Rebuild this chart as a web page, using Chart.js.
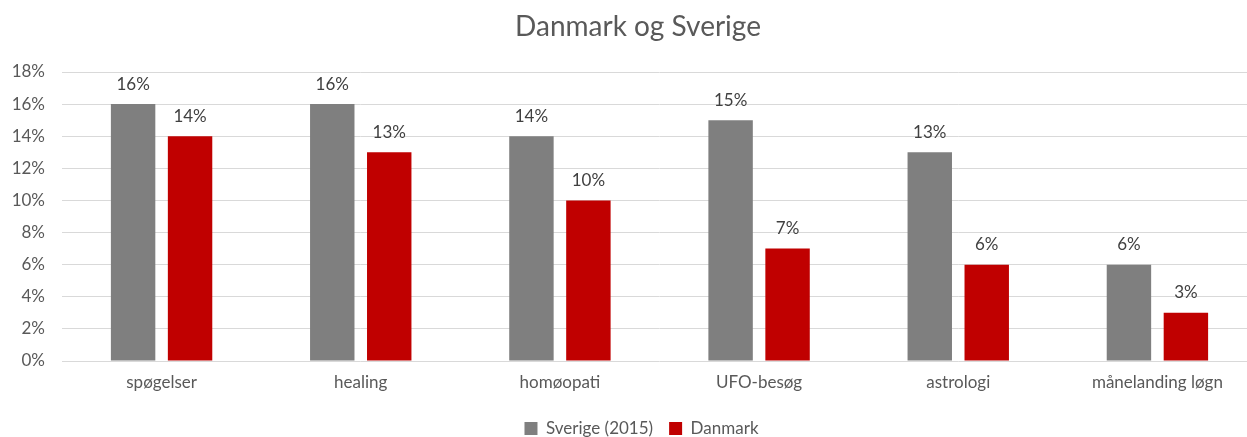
<!DOCTYPE html>
<html><head><meta charset="utf-8">
<script src="https://cdn.jsdelivr.net/npm/chart.js@4.4.0/dist/chart.umd.min.js"></script>
<style>html,body{margin:0;padding:0;background:#fff;overflow:hidden;width:1247px;height:437px}#wrap{width:1285px;height:437px}</style>
</head><body><div id="wrap"><canvas id="c"></canvas></div>
<script>
const categories = ["spøgelser","healing","homøopati","UFO-besøg","astrologi","månelanding løgn"];
const sverige = [16,16,14,15,13,6];
const danmark = [14,13,10,7,6,3];
const seriesNames = ["Sverige (2015)","Danmark"];
const yTicks = [0,2,4,6,8,10,12,14,16,18];
const titleText = "Danmark og Sverige";

const FONT = "Lato, 'Liberation Sans', sans-serif";
const valueLabels = {
  id:'valueLabels',
  afterDatasetsDraw(chart){
    const ctx = chart.ctx;
    ctx.save();
    ctx.font = "17px " + FONT;
    ctx.fillStyle = "#404040";
    ctx.textAlign = "center";
    ctx.textBaseline = "middle";
    chart.data.datasets.forEach((ds,i)=>{
      chart.getDatasetMeta(i).data.forEach((bar,j)=>{
        ctx.fillText(ds.data[j]+"%", bar.x, bar.y-20);
      });
    });
    ctx.restore();
  }
};
const titlePlugin = {
  id:'titlePlugin',
  afterDraw(chart){
    const ctx = chart.ctx;
    ctx.save();
    ctx.font = "28px " + FONT;
    ctx.fillStyle = "#595959";
    ctx.textAlign = "center";
    ctx.textBaseline = "middle";
    ctx.fillText(titleText, 638, 27);
    ctx.restore();
  }
};
const legendShift = {
  id:'legendShift',
  afterLayout(chart){
    if (chart.legend){ chart.legend.left += 13; chart.legend.right += 13; }
  }
};

new Chart(document.getElementById('c'),{
  type:'bar',
  data:{labels:categories,datasets:[
    {label:seriesNames[0],data:sverige,backgroundColor:'#7f7f7f',categoryPercentage:0.572,barPercentage:0.78},
    {label:seriesNames[1],data:danmark,backgroundColor:'#c00000',categoryPercentage:0.572,barPercentage:0.78}
  ]},
  options:{
    responsive:true,maintainAspectRatio:false,animation:false,
    layout:{padding:{left:0,right:28,top:72,bottom:-10}},
    plugins:{
      title:{display:false},
      legend:{position:'bottom',labels:{color:"#595959",font:{family:FONT,size:17},boxWidth:13,boxHeight:13,padding:16}},
      tooltip:{enabled:false}
    },
    scales:{
      x:{grid:{display:false},border:{display:false},
        afterFit(s){s.height=43;},
        ticks:{color:"#595959",font:{family:FONT,size:17},padding:3}},
      y:{min:0,max:18,grid:{color:"#d9d9d9",drawTicks:false},border:{display:false},
        afterFit(s){s.width=62;},
        afterBuildTicks(s){s.ticks=yTicks.map(v=>({value:v}));},
        ticks:{color:"#595959",font:{family:FONT,size:17},padding:17,callback:v=>v+"%"}}
    }
  },
  plugins:[valueLabels,titlePlugin,legendShift]
});
</script></body></html>
